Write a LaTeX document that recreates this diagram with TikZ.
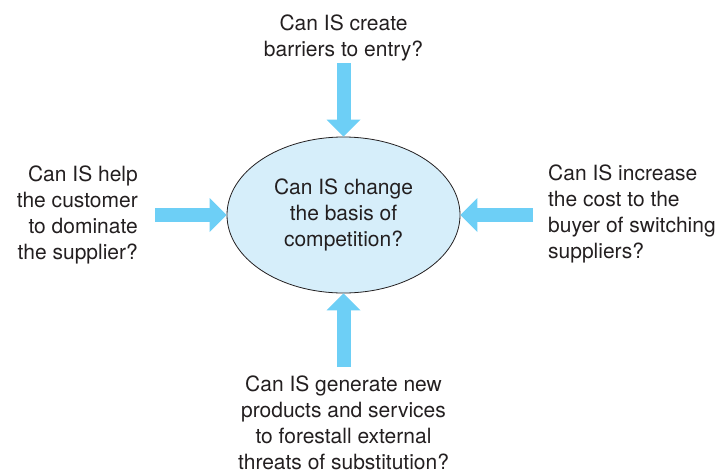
\documentclass[tikz,border=0pt]{standalone}
\usepackage{fontspec}
\setmainfont{TeX Gyre Heros}
\usetikzlibrary{shapes.geometric,arrows.meta}
\definecolor{arrowblue}{RGB}{109,207,246}
\definecolor{paleblue}{RGB}{214,238,250}
\definecolor{txt}{RGB}{35,31,32}
\tikzset{
  label text/.style={inner sep=0pt, align=center, text=txt, font=\fontsize{21}{26}\selectfont},
  fatarrow/.style={draw=arrowblue, line width=14pt, -{Triangle[width=34pt,length=17pt,line width=0pt]}},
}
\begin{document}
\begin{tikzpicture}[x=1pt,y=-1pt]
\useasboundingbox (0,0) rectangle (725,474);
\node[ellipse, draw=txt, line width=0.8pt, fill=paleblue, minimum width=233pt, minimum height=156pt, inner sep=0pt, label text] (c) at (343.5,215) {Can IS change\\the basis of\\competition?};
\node[label text] (top) at (343.5,37.5) {Can IS create\\barriers to entry?};
\node[label text, align=right, anchor=east] (left) at (138,214.5) {Can IS help\\the customer\\to dominate\\the supplier?};
\node[label text, align=left, anchor=west] (right) at (548,213.5) {Can IS increase\\the cost to the\\buyer of switching\\suppliers?};
\node[label text] (bottom) at (343.5,423.3) {Can IS generate new\\products and services\\to forestall external\\threats of substitution?};
\coordinate (ts) at (343.5,63);
\coordinate (ls) at (155,215);
\coordinate (rs) at (533,215);
\coordinate (bs) at (343.5,367);
\draw[fatarrow] (ts) -- (c.north);
\draw[fatarrow] (ls) -- (c.west);
\draw[fatarrow] (rs) -- (c.east);
\draw[fatarrow] (bs) -- (c.south);
\end{tikzpicture}
\end{document}
